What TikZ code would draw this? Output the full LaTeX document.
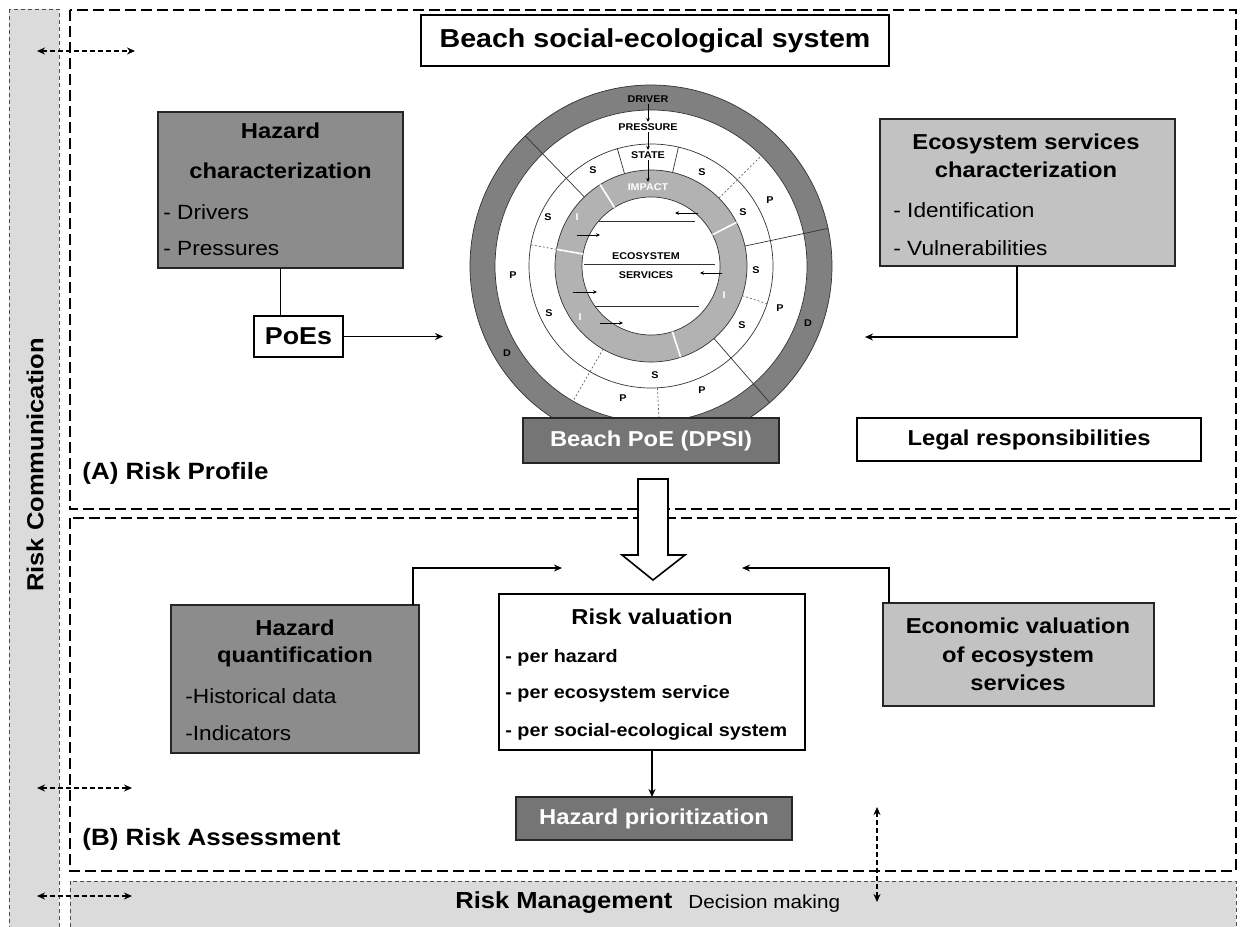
\documentclass[tikz,border=0pt]{standalone}
\usepackage{fontspec}
\setmainfont{Liberation Sans}[FakeStretch=1.1]
\usetikzlibrary{arrows.meta}

\definecolor{ringdark}{gray}{0.50}
\definecolor{impactgray}{gray}{0.70}
\definecolor{hazgray}{gray}{0.55}
\definecolor{esgray}{gray}{0.76}
\definecolor{poegray}{gray}{0.46}
\definecolor{bargray}{gray}{0.86}

\tikzset{
  section/.style={draw, line width=1.3pt, dash pattern=on 5.5pt off 2.5pt},
  bar/.style={draw=black!70, fill=bargray, line width=0.5pt, dash pattern=on 2pt off 1.5pt},
  box/.style={rectangle, inner sep=0pt, outer sep=0pt, line width=0.6pt},
  darkbox/.style={box, draw=black!85, fill=hazgray},
  lightbox/.style={box, draw=black!85, fill=esgray},
  whitebox/.style={box, draw, fill=white},
  poebox/.style={box, draw=black!85, fill=poegray, text=white, font=\fontsize{10.8}{13}\selectfont\bfseries},
  head/.style={font=\fontsize{10.8}{13}\selectfont\bfseries, anchor=base, inner sep=0pt},
  itemtxt/.style={font=\fontsize{10.3}{12}\selectfont, anchor=base west, inner sep=0pt},
  valtxt/.style={font=\fontsize{9}{11}\selectfont\bfseries, anchor=base west, inner sep=0pt},
  seclabel/.style={font=\fontsize{11.8}{14}\selectfont\bfseries, anchor=base west, inner sep=0pt},
  barlabel/.style={font=\fontsize{11.6}{14}\selectfont\bfseries, inner sep=0pt},
  ringtxt/.style={font=\fontsize{4.9}{6}\selectfont\bfseries, inner sep=0.6pt},
  ringline/.style={draw=black!80, line width=0.35pt},
  dotline/.style={draw=black!60, line width=0.35pt, dash pattern=on 1pt off 1pt},
  link/.style={-{Stealth[length=4pt,width=3.5pt]}, line width=0.6pt},
  tiny/.style={-{Stealth[length=2pt,width=1.8pt]}, line width=0.35pt},
  comm/.style={{Stealth[length=4pt,width=3.5pt]}-{Stealth[length=4pt,width=3.5pt]}, line width=0.7pt, dash pattern=on 2.5pt off 1.5pt},
}

\begin{document}
\begin{tikzpicture}[x=0.5pt, y=-0.5pt]
  \useasboundingbox (0,0) rectangle (1240,926);

  % communication and management bars
  \draw[bar] (9,9) rectangle (59,940);
  \draw[bar] (70,881) rectangle (1236,940);
  \node[barlabel, rotate=90] (commlabel) at (35,465) {Risk Communication};
  \node[barlabel, anchor=base west] (mgmtlabel) at (455,908)
    {Risk Management\hspace{8pt}{\fontsize{9.4}{11}\selectfont\mdseries Decision making}};

  % the two stages
  \draw[section] (70,10) rectangle (1236,509);
  \draw[section] (70,518) rectangle (1236,871);
  \node[seclabel] (profilelabel) at (82,479) {(A) Risk Profile};
  \node[seclabel] (assesslabel) at (82,845) {(B) Risk Assessment};

  % communication arrows
  \coordinate (ca1) at (37,51);  \coordinate (cb1) at (135,51);
  \coordinate (ca2) at (37,788); \coordinate (cb2) at (132,788);
  \coordinate (ca3) at (37,896); \coordinate (cb3) at (132,896);
  \coordinate (ca4) at (877,807); \coordinate (cb4) at (877,902);
  \foreach \i in {1,...,4} \draw[comm] (ca\i) -- (cb\i);

  % DPSIR rings
  \begin{scope}[shift={(651,266)}, x=0.5pt, y=0.5pt]
    \draw[ringline, fill=ringdark] (0,0) circle (181);
    \draw[ringline, fill=white] (0,0) circle (156);
    \draw[ringline] (0,0) circle (122);
    \draw[ringline, fill=impactgray] (0,0) circle (96);
    \draw[ringline, fill=white] (0,0) circle (69);
    \foreach \a in {134,12,-49} \draw[ringline] (\a:96) -- (\a:181);
    \foreach \a in {77,106} \draw[ringline] (\a:96) -- (\a:122);
    \foreach \a/\r in {45/156,240/156,170/122,-18/122} \draw[dotline] (\a:96) -- (\a:\r);
    \draw[dotline] (273:122) -- (273:156);
    \foreach \a in {122,27,170,-72} \draw[white, line width=0.8pt] (\a:69) -- (\a:96);
    \draw[ringline] (-52,45) -- (44,45);
    \draw[ringline] (-67,2) -- (64,2);
    \draw[ringline] (-56,-40) -- (48,-40);

    \node[ringtxt] (drv) at (-3,167) {DRIVER};
    \node[ringtxt] (prs) at (-3,139) {PRESSURE};
    \node[ringtxt] (sta) at (-3,111) {STATE};
    \node[ringtxt, text=white] (imp) at (-3,79) {IMPACT};
    \node[ringtxt] (eco) at (-5,10) {ECOSYSTEM};
    \node[ringtxt] (ser) at (-5,-9) {SERVICES};
    \draw[tiny] (drv) -- (prs);
    \draw[tiny] (prs) -- (sta);
    \draw[tiny] (sta) -- (imp);

    \foreach \p [count=\i] in {(-58,96),(51,94),(-103,49),(92,54),(105,-4),(-102,-47),(91,-59),(4,-109)}
      \node[ringtxt] (s\i) at \p {S};
    \foreach \p [count=\i] in {(119,66),(-138,-9),(129,-42),(-28,-132),(51,-124)}
      \node[ringtxt] (p\i) at \p {P};
    \foreach \p [count=\i] in {(-144,-87),(157,-57)}
      \node[ringtxt] (d\i) at \p {D};
    \foreach \p [count=\i] in {(-74,49),(73,-29),(-71,-51)}
      \node[ringtxt, text=white] (i\i) at \p {I};

    \foreach \s/\t [count=\i] in {47/24,-74/-51,71/49,-78/-54,-51/-28} {
      \coordinate (ia\i) at (\s,0);
      \coordinate (ib\i) at (\t,0);
    }
    \foreach \i/\y in {1/53,2/31,3/-7,4/-26,5/-57}
      \draw[tiny] ([yshift=\y*0.5pt]ia\i) -- ([yshift=\y*0.5pt]ib\i);
  \end{scope}

  % risk profile
  \node[whitebox, minimum width=234pt, minimum height=25.5pt,
        font=\fontsize{13}{15}\selectfont\bfseries] (ses) at (655,40.5) {Beach social-ecological system};

  \node[darkbox, minimum width=122.5pt, minimum height=78pt] (hzc) at (280.5,190) {};
  \node[head] (hzct1) at (280.5,138) {Hazard};
  \node[head] (hzct2) at (280.5,178) {characterization};
  \node[itemtxt] (hzci1) at (163,219) {- Drivers};
  \node[itemtxt] (hzci2) at (163,255) {- Pressures};

  \node[whitebox, minimum width=44.5pt, minimum height=20.5pt,
        font=\fontsize{12.2}{14}\selectfont\bfseries] (poes) at (298.5,336.5) {PoEs};
  \coordinate (poetip) at (443,336.5);
  \draw[line width=0.6pt] (hzc.south) -- (hzc.south |- poes.north);
  \draw[link] (poes.east) -- (poetip);

  \node[lightbox, minimum width=147.5pt, minimum height=73.5pt] (esc) at (1027.5,192.5) {};
  \node[head] (esct1) at (1026,149) {Ecosystem services};
  \node[head] (esct2) at (1026,177) {characterization};
  \node[itemtxt] (esci1) at (893,217) {- Identification};
  \node[itemtxt] (esci2) at (893,255) {- Vulnerabilities};
  \coordinate (escbend) at (1017,337);
  \coordinate (esctip) at (865,337);
  \draw[link] (esc.south -| escbend) -- (escbend) -- (esctip);

  \node[whitebox, minimum width=172pt, minimum height=21.5pt,
        font=\fontsize{10.8}{13}\selectfont\bfseries] (legal) at (1029,439.5) {Legal responsibilities};
  \node[poebox, minimum width=128pt, minimum height=22.5pt] (beachpoe) at (651,440.5) {Beach PoE (DPSI)};

  % hollow arrow between the stages
  \draw[fill=white, line width=0.8pt] (638,479) -- (668,479) -- (668,555) -- (685,555)
    -- (653,580) -- (622,555) -- (638,555) -- cycle;

  % risk assessment
  \node[darkbox, minimum width=124pt, minimum height=74pt] (hzq) at (295,679) {};
  \node[head] (hzqt1) at (295,635) {Hazard};
  \node[head] (hzqt2) at (295,662) {quantification};
  \node[itemtxt] (hzqi1) at (185,703) {-Historical data};
  \node[itemtxt] (hzqi2) at (185,740) {-Indicators};
  \coordinate (hzqbend) at (413,568);
  \coordinate (hzqtip) at (562,568);
  \draw[link] (hzq.north -| hzqbend) -- (hzqbend) -- (hzqtip);

  \node[whitebox, line width=1pt, minimum width=153pt, minimum height=78pt] (rval) at (652,672) {};
  \node[head] (rvalt) at (652,624) {Risk valuation};
  \node[valtxt] (rvali1) at (505,662) {- per hazard};
  \node[valtxt] (rvali2) at (505,698) {- per ecosystem service};
  \node[valtxt] (rvali3) at (505,736) {- per social-ecological system};

  \node[poebox, minimum width=138pt, minimum height=21.5pt] (prio) at (654,818.5) {Hazard prioritization};
  \draw[link] (rval.south) -- (rval.south |- prio.north);

  \node[lightbox, minimum width=135.5pt, minimum height=51.5pt] (econ) at (1018.5,654.5) {};
  \node[head] (econt1) at (1018,633) {Economic valuation};
  \node[head] (econt2) at (1018,662) {of ecosystem};
  \node[head] (econt3) at (1018,690) {services};
  \coordinate (econbend) at (889,568);
  \coordinate (econtip) at (742,568);
  \draw[link] (econ.north -| econbend) -- (econbend) -- (econtip);
\end{tikzpicture}
\end{document}
